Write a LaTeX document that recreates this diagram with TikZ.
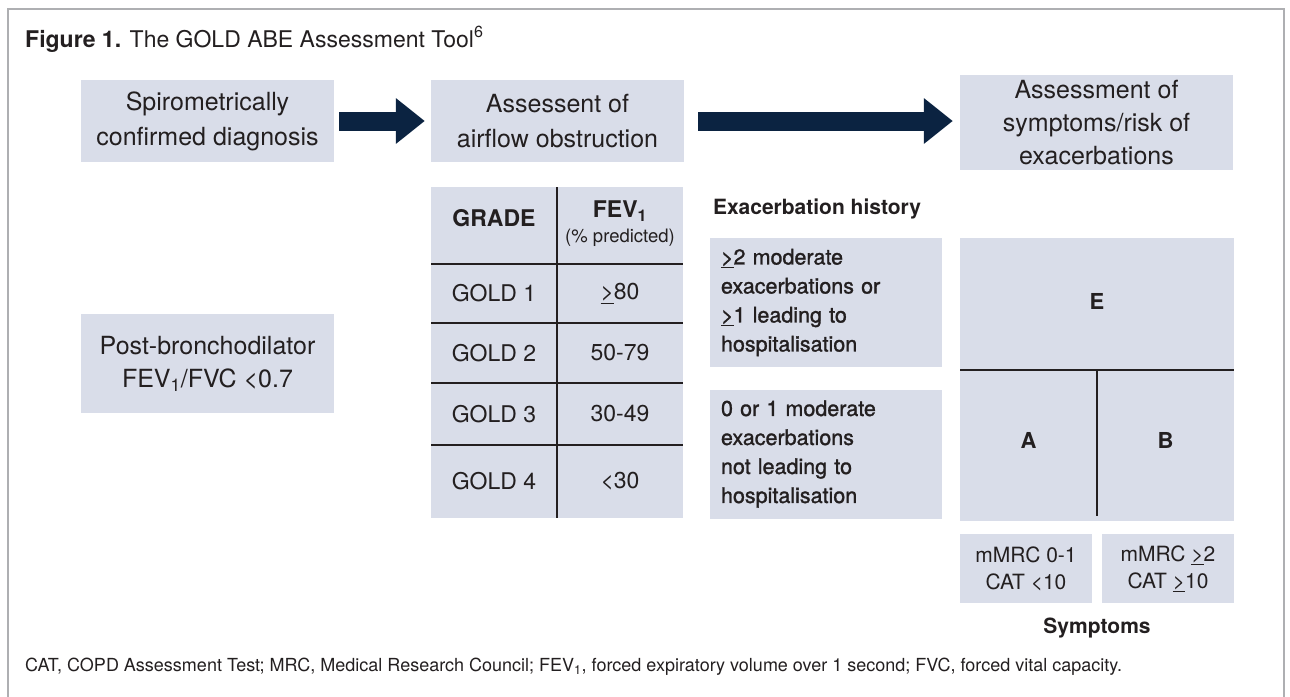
\documentclass[tikz,border=0pt]{standalone}
\usepackage{fontspec}
\setmainfont{TeX Gyre Heros}
\newfontfamily\medfont[FakeBold=1.3]{TeX Gyre Heros}
\usetikzlibrary{arrows.meta}
\definecolor{boxfill}{HTML}{D9DDE9}
\definecolor{navy}{HTML}{0B2341}
\definecolor{ink}{HTML}{231F20}
\definecolor{frame}{HTML}{AEAFB2}
\newcommand{\gequ}{\underline{>}}
\tikzset{
  box/.style={fill=boxfill, inner sep=0pt, align=center, text=ink,
    font=\fontsize{25}{35}\selectfont},
  exbox/.style={fill=boxfill, inner xsep=11pt, inner ysep=0pt, align=left,
    text width=210pt, minimum height=129pt, text=ink,
    font=\medfont\fontsize{21.5}{29}\selectfont},
  symbox/.style={fill=boxfill, inner sep=0pt, align=center, text=ink,
    minimum width=132pt, minimum height=69pt,
    font=\fontsize{21}{27}\selectfont},
  cell/.style={text=ink, font=\fontsize{23}{27}\selectfont},
  head/.style={text=ink, font=\bfseries\fontsize{23}{27}\selectfont},
  grid/.style={line width=2.2pt, ink},
  bigarrow/.style={navy, line width=19pt, -{Triangle[length=29pt,width=44pt]}}
}
\begin{document}
\begin{tikzpicture}[x=1pt,y=-1pt]
\useasboundingbox (0,0) rectangle (1290,696);
\draw [frame, line width=2.5pt] (8,700) -- (8,9) -- (1284,9) -- (1284,700);
\node [anchor=base west, inner sep=0pt, text=ink, font=\fontsize{23}{27}\selectfont] (title) at (25,47)
  {\textbf{Figure 1.} The GOLD ABE Assessment Tool\textsuperscript{6}};
\node [box, minimum width=253pt, minimum height=82pt] (diag) at (207.5,121)
  {Spirometrically\\confirmed diagnosis};
\node [box, minimum width=253pt, minimum height=82pt] (airflow) at (557.5,121)
  {Assessent of\\airflow obstruction};
\node [box, font=\fontsize{25}{33}\selectfont, minimum width=273pt, minimum height=95pt] (symrisk) at (1096.5,122.5)
  {Assessment of\\symptoms/risk of\\exacerbations};
\draw [bigarrow] ([xshift=5pt]diag.east) -- ([xshift=-6pt]airflow.west);
\draw [bigarrow] ([xshift=14pt]airflow.east) -- ([xshift=-7pt]airflow.east -| symrisk.west);
\node [box, font=\fontsize{25}{33}\selectfont, minimum width=253pt, minimum height=99pt] (postbd) at (207.5,363.5)
  {Post-bronchodilator\\FEV\textsubscript{1}/FVC <0.7};
\node [fill=boxfill, inner sep=0pt, minimum width=252pt, minimum height=331pt] (grades) at (557,352.5) {};
\draw [grid] (557,187) -- (557,518);
\foreach \y in {264,323,383,445}
  \draw [grid] (431,\y) -- (683,\y);
\node [head] (grade) at (494,218) {GRADE};
\node [head] (fev) at (620,211) {FEV\textsubscript{1}};
\node [text=ink, font=\fontsize{18.5}{21}\selectfont] (pred) at (620,238) {(\% predicted)};
\node [cell] (g1) at (494,293.5) {GOLD 1};
\node [cell] (v1) at (620,293.5) {\gequ80};
\node [cell] (g2) at (494,353) {GOLD 2};
\node [cell] (v2) at (620,353) {50-79};
\node [cell] (g3) at (494,414) {GOLD 3};
\node [cell] (v3) at (620,414) {30-49};
\node [cell] (g4) at (494,481.5) {GOLD 4};
\node [cell] (v4) at (620,481.5) {<30};
\node [anchor=west, inner sep=0pt, text=ink, font=\bfseries\fontsize{21}{25}\selectfont] (exhist) at (713,209)
  {Exacerbation history};
\node [exbox] (exhigh) at (826,302.5)
  {\gequ2 moderate\\exacerbations or\\\gequ1 leading to\\hospitalisation};
\node [exbox] (exlow) at (826,454)
  {0 or 1 moderate\\exacerbations\\not leading to\\hospitalisation};
\node [fill=boxfill, inner sep=0pt, minimum width=274pt, minimum height=283pt] (abe) at (1097,379.5) {};
\draw [grid] (960,370) -- (1234,370);
\draw [grid] (1097,370) -- (1097,516);
\node [head, font=\bfseries\fontsize{22}{26}\selectfont] (gE) at (1097,301) {E};
\node [head, font=\bfseries\fontsize{22}{26}\selectfont] (gA) at (1028.5,440) {A};
\node [head, font=\bfseries\fontsize{22}{26}\selectfont] (gB) at (1165.5,440) {B};
\node [symbox] (mlow) at (1026,568.5) {mMRC 0-1\\CAT <10};
\node [symbox] (mhigh) at (1168,568.5) {mMRC \gequ2\\CAT \gequ10};
\node [text=ink, font=\bfseries\fontsize{21}{25}\selectfont] (symptoms) at (1097,628) {Symptoms};
\node [anchor=west, inner sep=0pt, text=ink, font=\fontsize{18}{21}\selectfont] (foot) at (25,667)
  {CAT, COPD Assessment Test; MRC, Medical Research Council; FEV\textsubscript{1}, forced expiratory volume over 1 second; FVC, forced vital capacity.};
\end{tikzpicture}
\end{document}
